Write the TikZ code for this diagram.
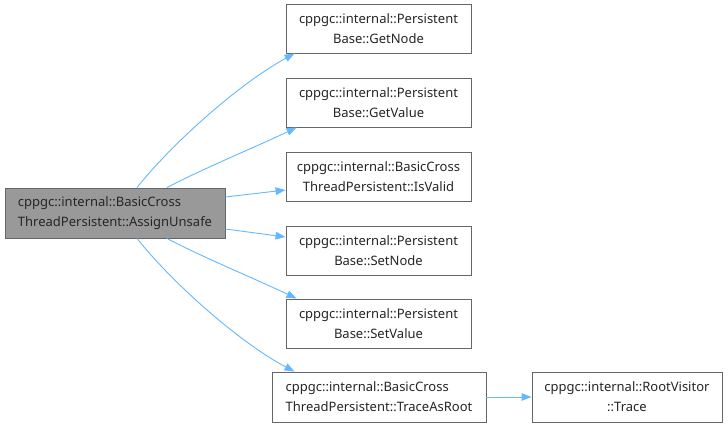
\documentclass[tikz,border=0pt]{standalone}
\usepackage{fontspec}
\setmainfont{Noto Sans}
\usetikzlibrary{arrows.meta}
\definecolor{edgeblue}{HTML}{63B8FF}
\definecolor{boxgrey}{HTML}{666666}
\definecolor{mainfill}{HTML}{999999}
\tikzset{
  fn/.style={draw=boxgrey, line width=0.9pt, fill=white, align=center, inner sep=0pt,
    font=\fontsize{13}{20}\selectfont, text=black!85},
  edge/.style={draw=edgeblue, line width=0.9pt, -{Triangle[length=10pt,width=7.5pt]}}
}
\begin{document}
\begin{tikzpicture}[x=1pt,y=-1pt]
\useasboundingbox (0,0) rectangle (728,426);
\node[fn, align=left, fill=mainfill, minimum width=220pt, minimum height=50pt] (main) at (115,213)
  {cppgc::internal::BasicCross\\ThreadPersistent::AssignUnsafe};
\node[fn, minimum width=185pt, minimum height=49pt] (n1) at (378.5,28.5)
  {cppgc::internal::Persistent\\Base::GetNode};
\node[fn, minimum width=185pt, minimum height=49pt] (n2) at (378.5,102.5)
  {cppgc::internal::Persistent\\Base::GetValue};
\node[fn, minimum width=185pt, minimum height=49pt] (n3) at (378.5,176.5)
  {cppgc::internal::BasicCross\\ThreadPersistent::IsValid};
\node[fn, minimum width=185pt, minimum height=49pt] (n4) at (378.5,250.5)
  {cppgc::internal::Persistent\\Base::SetNode};
\node[fn, minimum width=185pt, minimum height=49pt] (n5) at (378.5,323.5)
  {cppgc::internal::Persistent\\Base::SetValue};
\node[fn, align=left, minimum width=214pt, minimum height=50pt] (n6) at (379,397)
  {cppgc::internal::BasicCross\\ThreadPersistent::TraceAsRoot};
\node[fn, minimum width=190pt, minimum height=50pt] (n7) at (627,397)
  {cppgc::internal::RootVisitor\\::Trace};
\draw[edge] ([xshift=22pt]main.north) .. controls (175,140) and (242,82) .. ([xshift=9pt]n1.south west);
\draw[edge] ([xshift=52pt]main.north) .. controls (200,170) and (260,145) .. ([xshift=11pt]n2.south west);
\draw[edge] ([yshift=16pt]main.east) -- ([yshift=-13.5pt]n3.west);
\draw[edge] ([yshift=-16pt]main.east) -- ([yshift=13.5pt]n4.west);
\draw[edge] ([xshift=52pt]main.south) .. controls (200,256) and (260,281) .. ([xshift=11pt]n5.north west);
\draw[edge] ([xshift=22pt]main.south) .. controls (175,286) and (242,344) .. ([xshift=23pt]n6.north west);
\draw[edge] (n6.east) -- (n7.west);
\end{tikzpicture}
\end{document}
